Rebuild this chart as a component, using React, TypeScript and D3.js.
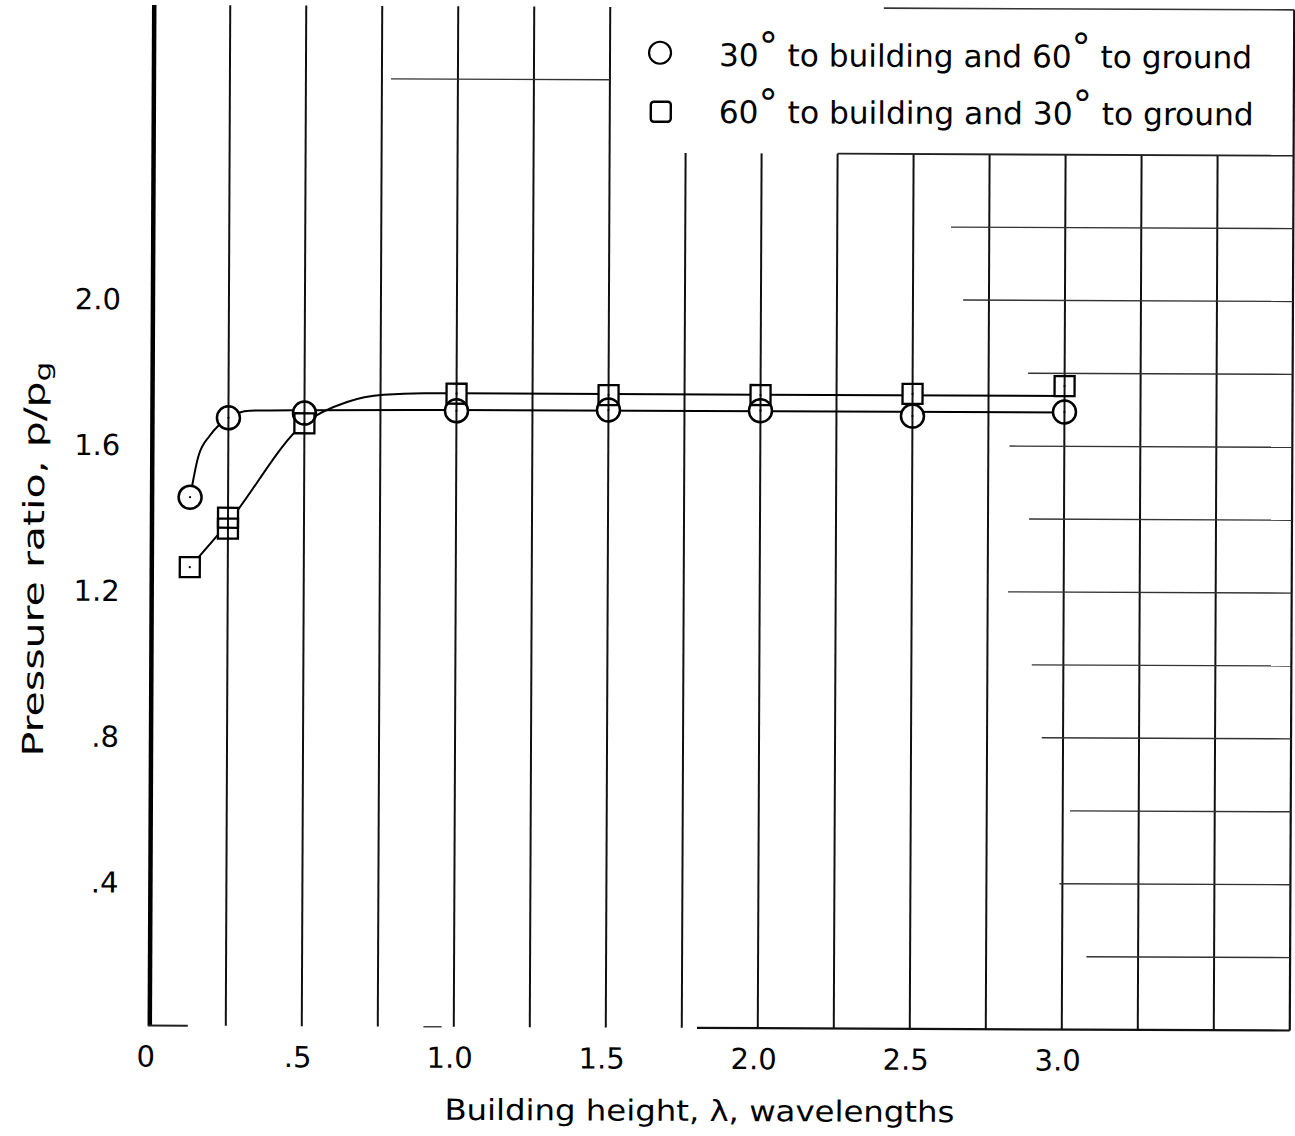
import React from "react";
import * as d3 from "d3";

// ---- data ----
const xTickValues = [0, 0.5, 1.0, 1.5, 2.0, 2.5, 3.0];
const xTickLabels = ["0", ".5", "1.0", "1.5", "2.0", "2.5", "3.0"];
const yTickValues = [0.4, 0.8, 1.2, 1.6, 2.0];
const yTickLabels = [".4", ".8", "1.2", "1.6", "2.0"];

// 30° to building and 60° to ground (circles)
const circleX = [0.125, 0.25, 0.5, 1.0, 1.5, 2.0, 2.5, 3.0];
const circleY = [1.45, 1.668, 1.682, 1.69, 1.694, 1.694, 1.681, 1.694];
// 60° to building and 30° to ground (squares)
const squareX = [0.125, 0.25, 0.25, 0.5, 1.0, 1.5, 2.0, 2.5, 3.0];
const squareY = [1.258, 1.394, 1.364, 1.654, 1.737, 1.735, 1.737, 1.742, 1.765];

// faired curves drawn through the data
const circleCurveX = [0.125, 0.151, 0.19, 0.25, 0.32, 0.5, 1.0, 3.0];
const circleCurveY = [1.45, 1.56, 1.62, 1.668, 1.688, 1.69, 1.692, 1.693];
const squareCurveX = [0.125, 0.25, 0.5, 0.64, 0.76, 0.9, 1.0, 3.0];
const squareCurveY = [1.258, 1.38, 1.654, 1.713, 1.733, 1.738, 1.738, 1.738];

// grid paper
const fullGridX = [0.25, 0.5, 0.75, 1.0, 1.25, 1.5];
const lowerGridX = [1.75, 2.0, 2.25, 2.5, 2.75, 3.0, 3.25, 3.5];
const rowValues = [2.2, 2.0, 1.8, 1.6, 1.4, 1.2, 1.0, 0.8, 0.6, 0.4, 0.2];
const rowStarts = [2.624, 2.665, 2.88, 2.82, 2.885, 2.817, 2.896, 2.93, 3.024, 2.99, 3.08];

const legendPre = ["30", "60"];
const legendMid = [" to building and ", " to building and "];
const legendPost = ["60", "30"];

const FONT = "'DejaVu Sans', 'Liberation Sans', sans-serif";

export default function App() {
  const x = d3.scaleLinear().domain([0, 1]).range([152, 456]);
  const y = d3.scaleLinear().domain([0, 1]).range([1028, 663.5]);

  const line = d3
    .line<[number, number]>()
    .x((d) => x(d[0]))
    .y((d) => y(d[1]))
    .curve(d3.curveMonotoneX);

  const circlePts: [number, number][] = circleCurveX.map((v, i) => [v, circleCurveY[i]]);
  const squarePts: [number, number][] = squareCurveX.map((v, i) => [v, squareCurveY[i]]);

  const R = 11.5;
  const S = 20;
  const top = 2.8;
  const right = 3.75;

  return (
    <svg
      width={1295}
      height={1136}
      style={{ position: "absolute", left: 0, top: 0, background: "#fff" }}
      fontFamily={FONT}
    >
      <rect width={1295} height={1136} fill="#fff" />
      <defs>
        <mask id="markerMask" maskUnits="userSpaceOnUse" x={0} y={0} width={1295} height={1136}>
          <rect x={0} y={0} width={1295} height={1136} fill="#fff" />
          {circleX.map((v, i) => (
            <circle key={"mc" + i} cx={x(v)} cy={y(circleY[i])} r={R} fill="#000" />
          ))}
          {squareX.map((v, i) => (
            <rect
              key={"ms" + i}
              x={x(v) - S / 2}
              y={y(squareY[i]) - S / 2}
              width={S}
              height={S}
              fill="#000"
            />
          ))}
        </mask>
      </defs>
      <g transform="rotate(0.25, 720, 520)">
        {/* vertical grid lines */}
        {fullGridX.map((v) => (
          <line key={"fv" + v} x1={x(v)} x2={x(v)} y1={y(top)} y2={y(0)} stroke="#111" strokeWidth={2} />
        ))}
        {lowerGridX.map((v) => (
          <line key={"lv" + v} x1={x(v)} x2={x(v)} y1={y(2.4)} y2={y(0)} stroke="#111" strokeWidth={2} />
        ))}
        <line x1={x(right)} x2={x(right)} y1={y(top)} y2={y(0)} stroke="#111" strokeWidth={2.2} />
        {/* horizontal grid remnants */}
        {rowValues.map((v, i) => (
          <line key={"hr" + v} x1={x(rowStarts[i])} x2={x(right)} y1={y(v)} y2={y(v)} stroke="#333" strokeWidth={1.4} />
        ))}
        <line x1={x(0.78)} x2={x(1.5)} y1={y(2.6)} y2={y(2.6)} stroke="#333" strokeWidth={1.4} />
        {/* legend frame */}
        <line x1={x(2.4)} x2={x(right)} y1={y(top)} y2={y(top)} stroke="#333" strokeWidth={1.6} />
        <line x1={x(2.25)} x2={x(right)} y1={y(2.4)} y2={y(2.4)} stroke="#222" strokeWidth={1.8} />
        {/* axes */}
        <line x1={x(0)} x2={x(0)} y1={y(top)} y2={y(0)} stroke="#000" strokeWidth={4.5} />
        <line x1={x(0) - 2} x2={x(0.125)} y1={y(0)} y2={y(0)} stroke="#222" strokeWidth={2} />
        <line x1={x(0.9)} x2={x(0.96)} y1={y(0)} y2={y(0)} stroke="#444" strokeWidth={1.5} />
        <line x1={x(1.8)} x2={x(right)} y1={y(0)} y2={y(0)} stroke="#111" strokeWidth={2.2} />

        {/* faired curves */}
        <g mask="url(#markerMask)" fill="none" stroke="#000" strokeWidth={2}>
          <path d={line(circlePts) || ""} />
          <path d={line(squarePts) || ""} />
        </g>

        {/* markers */}
        {circleX.map((v, i) => (
          <g key={"c" + i}>
            <circle cx={x(v)} cy={y(circleY[i])} r={R} fill="none" stroke="#000" strokeWidth={2.5} />
            <circle cx={x(v)} cy={y(circleY[i])} r={1.1} fill="#000" />
          </g>
        ))}
        {squareX.map((v, i) => (
          <g key={"s" + i}>
            <rect
              x={x(v) - S / 2}
              y={y(squareY[i]) - S / 2}
              width={S}
              height={S}
              fill="none"
              stroke="#000"
              strokeWidth={2.3}
            />
            <circle cx={x(v)} cy={y(squareY[i])} r={1.1} fill="#000" />
          </g>
        ))}

        {/* tick labels */}
        {xTickValues.map((v, i) => (
          <text key={"xt" + v} x={x(v) - 4} y={1069} fontSize={29} textAnchor="middle" fill="#000">
            {xTickLabels[i]}
          </text>
        ))}
        {yTickValues.map((v, i) => (
          <text key={"yt" + v} x={120} y={y(v) + 13} fontSize={29} textAnchor="end" fill="#000">
            {yTickLabels[i]}
          </text>
        ))}

        {/* axis titles */}
        <text x={702} y={1121} fontSize={29} textAnchor="middle" textLength={510} lengthAdjust="spacingAndGlyphs" fill="#000">
          Building height, λ, wavelengths
        </text>
        <text
          transform="translate(44, 562) rotate(-90)"
          fontSize={29}
          textAnchor="middle"
          textLength={395}
          lengthAdjust="spacingAndGlyphs"
          fill="#000"
        >
          Pressure ratio, p/p<tspan fontSize={22} dy={6}>g</tspan>
        </text>

        {/* legend */}
        <circle cx={658} cy={53} r={11} fill="none" stroke="#000" strokeWidth={2.2} />
        <rect x={649} y={102} width={20} height={20} rx={3} fill="none" stroke="#000" strokeWidth={2.4} />
        {legendPre.map((t, i) => (
          <text
            key={"lg" + i}
            x={717}
            y={66 + i * 57}
            fontSize={31}
            textLength={i === 0 ? 533 : 535}
            lengthAdjust="spacingAndGlyphs"
            fill="#000"
          >
            {t}
            <tspan fontSize={38} dy={-7}>°</tspan>
            <tspan dy={7}>{legendMid[i]}{legendPost[i]}</tspan>
            <tspan fontSize={38} dy={-7}>°</tspan>
            <tspan dy={7}> to ground</tspan>
          </text>
        ))}
      </g>
    </svg>
  );
}
